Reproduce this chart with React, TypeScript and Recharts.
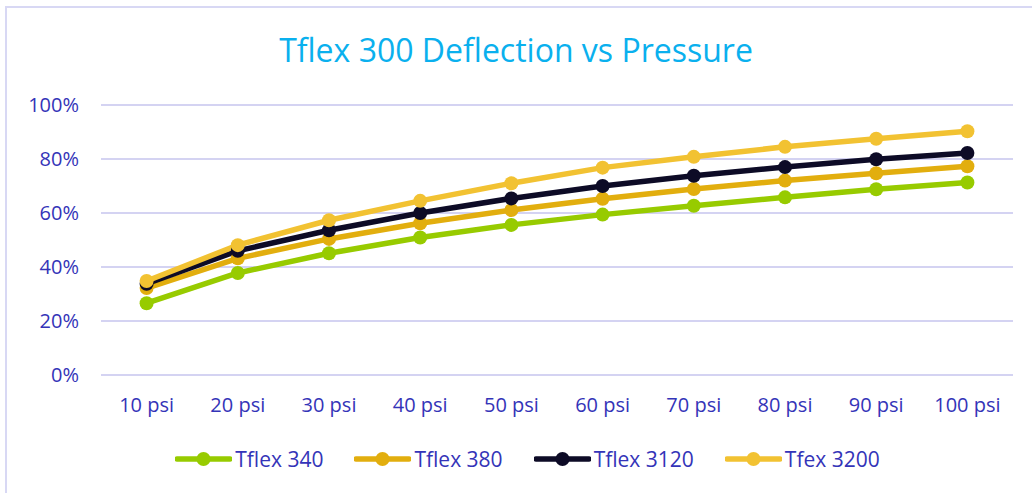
import React from 'react';
import { LineChart, Line, XAxis, YAxis, CartesianGrid, Legend } from 'recharts';

const pressures = ['10 psi', '20 psi', '30 psi', '40 psi', '50 psi', '60 psi', '70 psi', '80 psi', '90 psi', '100 psi'];
const tflex340 = [26.6, 37.8, 45.1, 50.9, 55.6, 59.4, 62.7, 65.8, 68.8, 71.3];
const tflex380 = [32.2, 43.2, 50.4, 56.2, 61.1, 65.3, 68.9, 72.0, 74.7, 77.3];
const tflex3120 = [33.8, 46.0, 53.6, 60.0, 65.4, 70.0, 73.8, 77.0, 79.9, 82.2];
const tfex3200 = [34.8, 48.1, 57.3, 64.5, 71.0, 76.8, 80.8, 84.5, 87.5, 90.3];
const yTicks = [0, 20, 40, 60, 80, 100];

const series = [
  { key: 'Tflex 340', values: tflex340, color: '#97CB00' },
  { key: 'Tflex 380', values: tflex380, color: '#E2AE0E' },
  { key: 'Tflex 3120', values: tflex3120, color: '#0D0B26' },
  { key: 'Tfex 3200', values: tfex3200, color: '#F2C232' },
];

const data = pressures.map((p, i) => {
  const row: Record<string, string | number> = { name: p };
  series.forEach((s) => (row[s.key] = s.values[i]));
  return row;
});

const FONT = '"Open Sans", sans-serif';
const TEXT = '#3434B8';

function LegendContent() {
  return (
    <div style={{ display: 'flex', justifyContent: 'center', gap: 31, paddingLeft: 23, fontFamily: FONT, fontSize: 21, color: TEXT }}>
      {series.map((s) => (
        <div key={s.key} style={{ display: 'flex', alignItems: 'center', gap: 3 }}>
          <svg width={57} height={16}>
            <line x1={2} y1={8} x2={55} y2={8} stroke={s.color} strokeWidth={5.5} strokeLinecap="round" />
            <circle cx={28.5} cy={8} r={7} fill={s.color} />
          </svg>
          <span>{s.key}</span>
        </div>
      ))}
    </div>
  );
}

export default function App() {
  return (
    <div style={{ position: 'absolute', left: 0, top: 0, width: 1032, height: 493, background: '#fff', overflow: 'hidden' }}>
      <div
        style={{
          position: 'absolute', left: 5, top: 6, width: 1100, height: 600,
          borderLeft: '2px solid #D8D8F4', borderTop: '2px solid #D8D8F4',
        }}
      />
      <div
        style={{
          position: 'absolute', left: 0, top: 28, width: 1032, textAlign: 'center',
          fontFamily: FONT, fontSize: 32, color: '#0AB0EE',
        }}
      >
        Tflex 300 Deflection vs Pressure
      </div>
      <div style={{ position: 'absolute', left: 0, top: 0 }}>
        <LineChart width={1032} height={493} data={data} margin={{ top: 105, right: 19, left: 0, bottom: 88 }}>
          <CartesianGrid stroke="#D4D3F2" strokeWidth={2} vertical={false} />
          <XAxis
            dataKey="name"
            axisLine={false}
            tickLine={false}
            tickMargin={17}
            padding={{ left: 45.6, right: 45.6 }}
            tick={{ fontSize: 20, fill: TEXT, fontFamily: FONT }}
            interval={0}
          />
          <YAxis
            width={101}
            domain={[0, 100]}
            ticks={yTicks}
            axisLine={false}
            tickLine={false}
            tickMargin={16}
            tickFormatter={(v) => `${v}%`}
            tick={{ fontSize: 20, fill: TEXT, fontFamily: FONT }}
          />
          <Legend
            layout="horizontal"
            verticalAlign="middle"
            align="center"
            content={<LegendContent />}
            wrapperStyle={{ top: 445, left: 0, width: 1032 }}
          />
          {series.map((s) => (
            <Line
              key={s.key}
              dataKey={s.key}
              stroke={s.color}
              strokeWidth={5.5}
              dot={{ r: 7, fill: s.color, stroke: 'none' }}
              activeDot={false}
              isAnimationActive={false}
            />
          ))}
        </LineChart>
      </div>
    </div>
  );
}
